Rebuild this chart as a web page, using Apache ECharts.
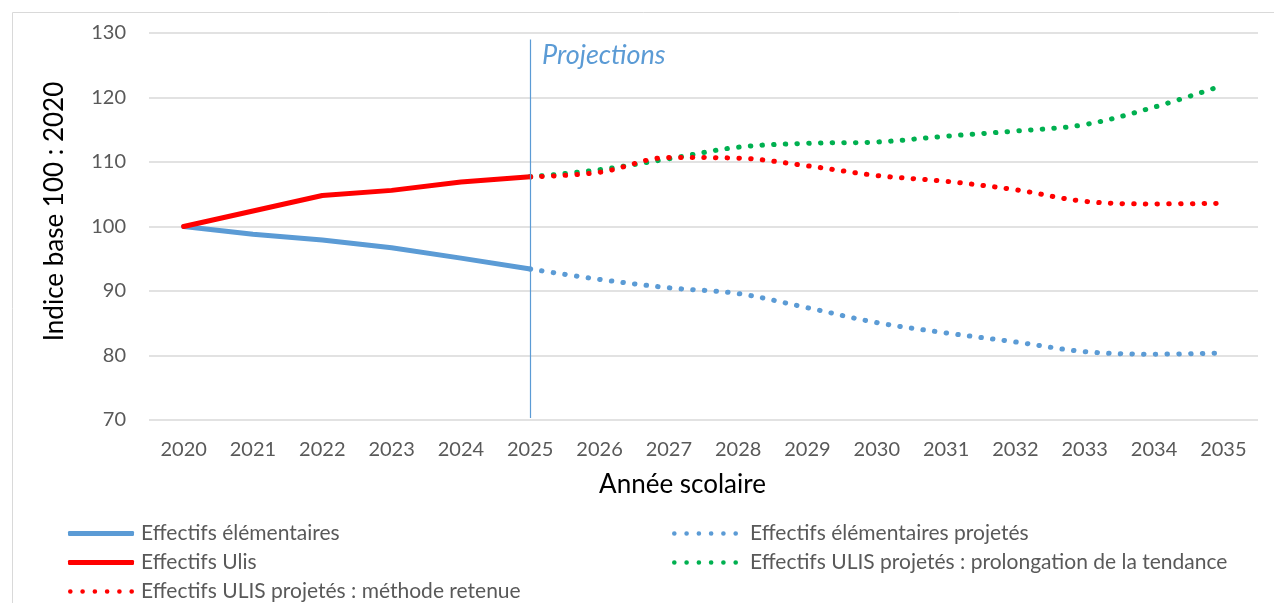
<!DOCTYPE html>
<html>
<head>
<meta charset="utf-8">
<script src="https://cdn.jsdelivr.net/npm/echarts@6/dist/echarts.min.js"></script>
<style>
  html, body { margin: 0; padding: 0; background: #fff; }
  #chart { width: 1274px; height: 603px; }
</style>
</head>
<body>
<div id="chart"></div>
<script>
  var years = ['2020', '2021', '2022', '2023', '2024', '2025', '2026', '2027',
    '2028', '2029', '2030', '2031', '2032', '2033', '2034', '2035']

  // observed
  var elementaires = [100, 98.8, 97.9, 96.7, 95.1, 93.4, '-', '-', '-', '-', '-', '-', '-', '-', '-', '-']
  var ulis = [100, 102.4, 104.8, 105.6, 106.9, 107.7, '-', '-', '-', '-', '-', '-', '-', '-', '-', '-']
  // projections
  var elementairesProj = ['-', '-', '-', '-', '-', 93.4, 91.8, 90.5, 89.6, 87.4, 85.1, 83.5, 82.1, 80.6, 80.2, 80.4]
  var ulisTendance = ['-', '-', '-', '-', '-', 107.7, 108.8, 110.5, 112.3, 112.9, 113.1, 114.0, 114.8, 115.8, 118.5, 121.9]
  var ulisRetenue = ['-', '-', '-', '-', '-', 107.7, 108.4, 110.7, 110.6, 109.4, 107.9, 107.0, 105.7, 103.9, 103.5, 103.6]

  var names = {
    elem: 'Effectifs élémentaires',
    ulis: 'Effectifs Ulis',
    elemProj: 'Effectifs élémentaires projetés',
    tend: 'Effectifs ULIS projetés : prolongation de la tendance',
    ret: 'Effectifs ULIS projetés : méthode retenue'
  }

  var font = 'Lato, "Open Sans", sans-serif'
  var dots = [0.5, 11.2]
  // six round dots, used as legend icon for the projected series
  var dotIcon = 'path://M0,1a1,1 0 1,0 2,0a1,1 0 1,0 -2,0z' +
    'M5.3,1a1,1 0 1,0 2,0a1,1 0 1,0 -2,0z' +
    'M10.6,1a1,1 0 1,0 2,0a1,1 0 1,0 -2,0z' +
    'M15.9,1a1,1 0 1,0 2,0a1,1 0 1,0 -2,0z' +
    'M21.2,1a1,1 0 1,0 2,0a1,1 0 1,0 -2,0z' +
    'M26.5,1a1,1 0 1,0 2,0a1,1 0 1,0 -2,0z'

  function legendItem(name, icon, left, top, gap) {
    return {
      left: left,
      top: top,
      padding: 0,
      itemWidth: 66,
      itemHeight: 5,
      selectedMode: false,
      textStyle: { color: '#595959', fontSize: 21, fontFamily: font, padding: [0, 0, 0, gap] },
      data: [{ name: name, icon: icon }]
    }
  }

  var chart = echarts.init(document.getElementById('chart'))
  chart.setOption({
    animation: false,
    textStyle: { fontFamily: font },
    grid: { left: 149, right: 16, top: 33, bottom: 183 },
    legend: [
      legendItem(names.elem, 'roundRect', 68, 523, 2),
      legendItem(names.ulis, 'roundRect', 68, 552, 2),
      legendItem(names.ret, dotIcon, 68, 581, 2),
      legendItem(names.elemProj, dotIcon, 672, 523, 7),
      legendItem(names.tend, dotIcon, 672, 552, 7)
    ],
    xAxis: {
      type: 'category',
      data: years,
      boundaryGap: true,
      name: 'Année scolaire',
      nameLocation: 'middle',
      nameGap: 52,
      nameTextStyle: { color: '#000', fontSize: 26, fontFamily: font, padding: [0, 42, 0, 0] },
      axisLine: { show: false },
      axisTick: { show: false },
      axisLabel: { color: '#595959', fontSize: 20, margin: 20 }
    },
    yAxis: {
      type: 'value',
      min: 70,
      max: 130,
      interval: 10,
      name: 'Indice base 100 : 2020',
      nameLocation: 'middle',
      nameGap: 81,
      nameTextStyle: { color: '#000', fontSize: 26, fontFamily: font, padding: [0, 0, 0, 30] },
      axisLabel: { color: '#595959', fontSize: 20, margin: 23 },
      splitLine: { lineStyle: { color: '#d9d9d9', width: 1.5 } }
    },
    graphic: [{
      type: 'rect',
      left: 10,
      top: 10,
      shape: { width: 1270, height: 600 },
      style: { fill: 'none', stroke: '#d9d9d9', lineWidth: 1 },
      silent: true
    }, {
      type: 'text',
      left: 542,
      top: 42,
      style: { text: 'Projections', fill: '#5B9BD5', font: 'italic 27px ' + font }
    }],
    series: [{
      name: names.elem,
      type: 'line',
      data: elementaires,
      symbol: 'none',
      color: '#5B9BD5',
      lineStyle: { width: 5, cap: 'round' },
      markLine: {
        silent: true,
        symbol: 'none',
        label: { show: false },
        itemStyle: { color: '#5B9BD5' },
        lineStyle: { color: '#5B9BD5', width: 1.2, type: 'solid' },
        data: [[{ coord: ['2025', 129] }, { coord: ['2025', 70.3] }]]
      }
    }, {
      name: names.ulis,
      type: 'line',
      data: ulis,
      symbol: 'none',
      color: '#FF0000',
      lineStyle: { width: 5, cap: 'round' }
    }, {
      name: names.elemProj,
      type: 'line',
      data: elementairesProj,
      smooth: 0.35,
      symbol: 'none',
      color: '#5B9BD5',
      lineStyle: { width: 5, type: dots, cap: 'round' }
    }, {
      name: names.tend,
      type: 'line',
      data: ulisTendance,
      smooth: 0.35,
      symbol: 'none',
      color: '#00B050',
      lineStyle: { width: 5, type: dots, cap: 'round' }
    }, {
      name: names.ret,
      type: 'line',
      data: ulisRetenue,
      smooth: 0.35,
      symbol: 'none',
      color: '#FF0000',
      lineStyle: { width: 5, type: dots, cap: 'round' }
    }]
  })
</script>
</body>
</html>
